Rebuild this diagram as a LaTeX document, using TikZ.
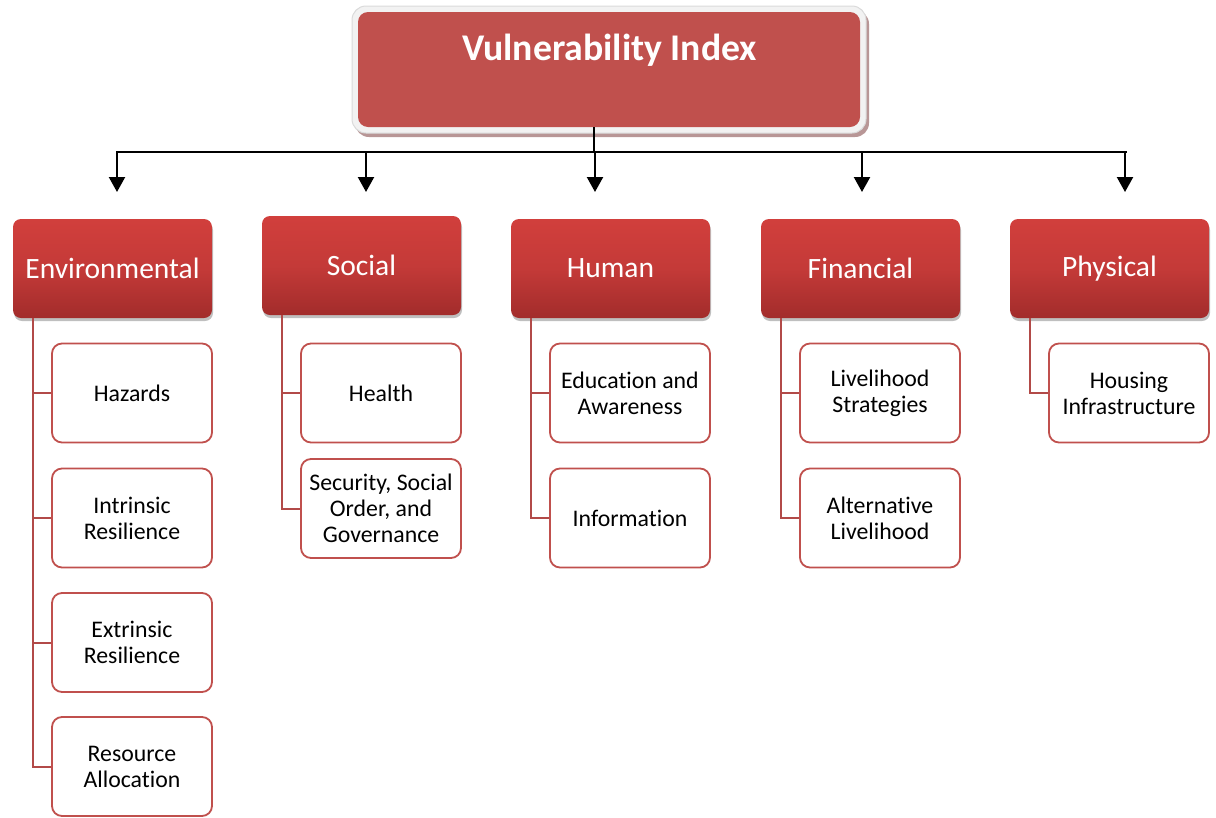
\documentclass[tikz,border=0pt]{standalone}
\usepackage{fontspec}
\setmainfont[Ligatures=NoCommon]{Carlito}
\usetikzlibrary{arrows.meta,shadows}
\definecolor{accent}{HTML}{C0504D}
\definecolor{cattop}{HTML}{D13F3C}
\definecolor{catmid}{HTML}{C43A38}
\definecolor{catbot}{HTML}{A22C2B}
\definecolor{branch}{HTML}{B24A48}
\definecolor{framefill}{HTML}{F2F2F2}
\definecolor{frameedge}{HTML}{DADADA}
\definecolor{frameshadow}{HTML}{B89696}
\tikzset{
  catbox/.style={rectangle, rounded corners=8pt, minimum width=199pt, minimum height=99pt,
    inner sep=0pt, top color=cattop, bottom color=catbot, middle color=catmid, draw=none,
    text=white, font=\fontsize{29.5}{33}\selectfont,
    drop shadow={shadow xshift=1pt, shadow yshift=-3pt, opacity=0.25, fill=black}},
  leafbox/.style={rectangle, rounded corners=10pt, minimum width=160pt, minimum height=99pt,
    inner sep=0pt, draw=accent, line width=1.8pt, fill=white, align=center,
    font=\fontsize{23.8}{26}\selectfont, text=black},
  branchline/.style={draw=branch, line width=2pt},
  busline/.style={draw=black, line width=2.2pt},
  droparrow/.style={draw=black, line width=2.2pt, -{Triangle[width=16pt,length=15pt]}},
}
\begin{document}
\begin{tikzpicture}[x=1pt,y=-1pt]
\useasboundingbox (0,0) rectangle (1216,817);

% title frame: shadow, light frame, red face
\fill[frameshadow, rounded corners=14pt] (355,10) rectangle (869,137);
\filldraw[fill=framefill, draw=frameedge, line width=1pt, rounded corners=14pt] (352,6) rectangle (866,133);
\node[rectangle, rounded corners=10pt, fill=accent, minimum width=502pt, minimum height=115pt, inner sep=0pt] (title) at (609,69.5) {};
\node[text=white, font=\fontsize{37.7}{42}\bfseries\selectfont, inner sep=0pt] (titlelbl) at (609.5,50) {Vulnerability Index};

% category boxes
\node[catbox] (env) at (112.5,268.5) {Environmental};
\node[catbox] (soc) at (361.5,265.5) {Social};
\node[catbox] (hum) at (610.5,268.5) {Human};
\node[catbox] (fin) at (860.5,268.5) {Financial};
\node[catbox] (phy) at (1109.5,268.5) {Physical};

% bus from the title to the categories
\coordinate (busC) at (594,152);
\coordinate (busL) at (116,152);
\coordinate (busR) at (1127,152);
\coordinate (b1) at (117,152);
\coordinate (b2) at (366,152);
\coordinate (b3) at (595,152);
\coordinate (b4) at (862,152);
\coordinate (b5) at (1125,152);
\coordinate (a1) at (117,192);
\coordinate (a2) at (366,192);
\coordinate (a3) at (595,192);
\coordinate (a4) at (862,192);
\coordinate (a5) at (1125,192);
\draw[busline] (title.south -| busC) -- (busC);
\draw[busline] (busL) -- (busR);
\foreach \i in {1,...,5} \draw[droparrow] (b\i) -- (a\i);

% leaf boxes
\node[leafbox] (haz) at (132,393) {Hazards};
\node[leafbox] (intr) at (132,518) {Intrinsic\\Resilience};
\node[leafbox] (extr) at (132,642.5) {Extrinsic\\Resilience};
\node[leafbox] (res) at (132,766.5) {Resource\\Allocation};

\node[leafbox] (hea) at (381,393) {Health};
\node[leafbox] (sec) at (381,508.5) {Security, Social\\Order, and\\Governance};

\node[leafbox] (edu) at (630,393) {Education and\\Awareness};
\node[leafbox] (inf) at (630,518) {Information};

\node[leafbox] (liv) at (880,393) {Livelihood\\Strategies};
\node[leafbox] (alt) at (880,518) {Alternative\\Livelihood};

\node[leafbox] (hou) at (1129,393) {Housing\\Infrastructure};

% branch lines from categories to leaves
\coordinate (envB) at (33,318);
\coordinate (socB) at (282,315);
\coordinate (humB) at (531,318);
\coordinate (finB) at (781,318);
\coordinate (phyB) at (1030,318);
\foreach \leaf in {haz,intr,extr,res} \draw[branchline] (envB) |- (\leaf.west);
\foreach \leaf in {hea,sec} \draw[branchline] (socB) |- (\leaf.west);
\foreach \leaf in {edu,inf} \draw[branchline] (humB) |- (\leaf.west);
\foreach \leaf in {liv,alt} \draw[branchline] (finB) |- (\leaf.west);
\draw[branchline] (phyB) |- (hou.west);
\end{tikzpicture}
\end{document}
